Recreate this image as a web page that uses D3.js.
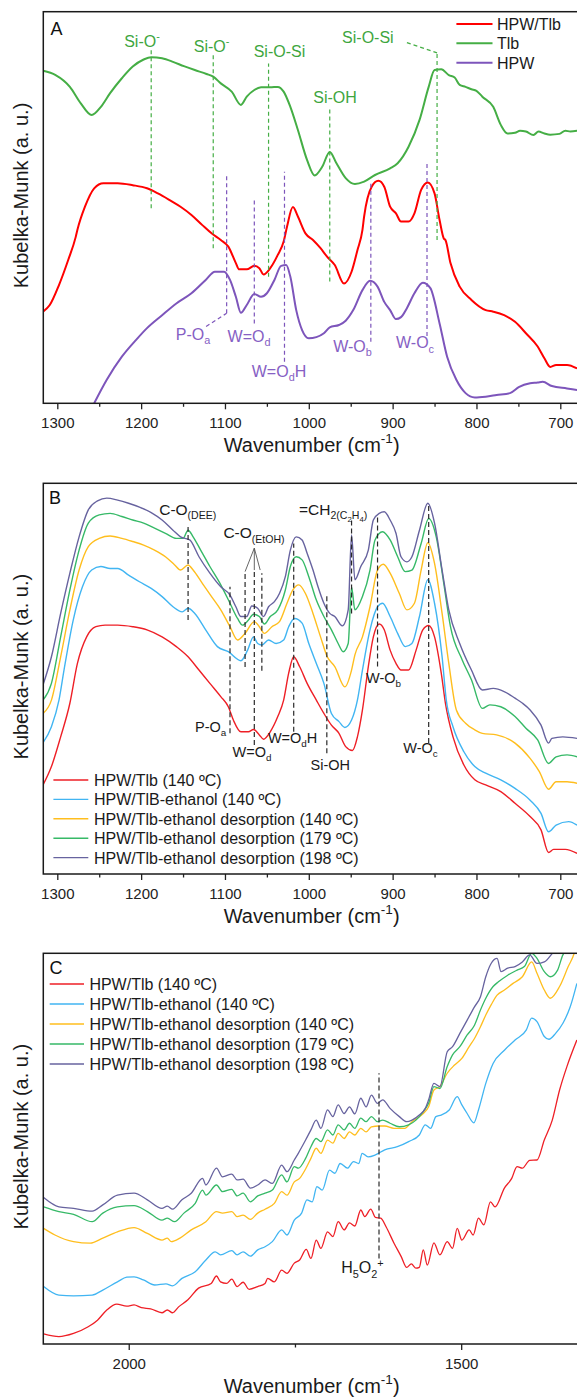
<!DOCTYPE html>
<html>
<head>
<meta charset="utf-8">
<script src="https://cdn.jsdelivr.net/npm/d3@7"></script>
<style>
  body { margin: 0; background: #fff; }
  svg { display: block; font-family: "Liberation Sans", Arial, sans-serif; }
</style>
</head>
<body>
<div class="spectra"></div>
<script>
// ---------- data: [wavenumber (cm-1), Kubelka-Munk (a. u.)] ----------

// Panel A
const aHpwTlb = [[1317,23.4],[1309,25.1],[1298,30.2],[1287,36.6],[1278,42.5],[1276,44.3],[1267,50.2],[1256,54.9],[1245,56.2],[1228,56.2],[1210,55.7],[1193,54.9],[1180,53.6],[1166,51.9],[1153,50.2],[1140,48.1],[1127,45.5],[1116,43.4],[1105,41.7],[1096,40],[1087,35.8],[1083,34.2],[1074,34.2],[1065,35.1],[1059,34.5],[1054,32.9],[1046,34.5],[1037,37.9],[1030,41.3],[1026,45.1],[1019,50.1],[1013,47.7],[1004,43.4],[995,41.7],[986,39.6],[978,37.4],[969,35.3],[958,30.6],[949,33.6],[942,39.1],[936,44.3],[934,47.7],[925,55.3],[917,56.8],[910,55.3],[903,50.2],[896,48.5],[890,46.4],[881,46.4],[874,48.5],[866,54.5],[858,56.4],[850,53.6],[844,46.8],[839,42.1],[837,41.7],[831,35.8],[820,29.8],[806,26.4],[789,23.8],[780,23.4],[767,22.5],[754,20.8],[741,17.9],[727,14.5],[719,11.5],[712,9.3],[705,9.8],[692,9.8],[680,8.9]];
const aTlb = [[1317,84.9],[1302,83.8],[1285,80.8],[1272,76.6],[1259,73.6],[1248,75.7],[1237,79.2],[1223,83],[1210,86],[1197,87.8],[1188,88.4],[1175,88.1],[1162,87.2],[1149,86.1],[1136,85.1],[1122,84.1],[1114,83.4],[1105,81.7],[1092,79.6],[1081,76.2],[1074,78.3],[1065,80],[1057,80.7],[1046,80.7],[1037,80.8],[1030,79.6],[1022,75.7],[1013,69.8],[1002,62.1],[993,58.2],[984,60.4],[975,64.2],[967,61.3],[956,57.5],[945,56],[934,56.6],[921,58.3],[903,60],[894,61.3],[881,65.5],[868,72.3],[857,80.8],[850,85.1],[842,85.3],[833,83.8],[826,83.2],[820,81.3],[813,80.8],[806,80.2],[800,79.8],[793,78.3],[780,75.7],[771,71.1],[763,68.9],[754,69.1],[748,69.6],[741,69.4],[732,68.5],[726,69.4],[719,68.9],[712,68.6],[701,68.8],[694,69.6],[688,69.4],[680,69.6]];
const aHpw = [[1256,0],[1241,6],[1223,11.9],[1206,16.2],[1193,19.2],[1175,22.5],[1158,25.5],[1140,28.1],[1123,31.5],[1112,33.6],[1101,33.6],[1094,31.5],[1087,27.2],[1081,23.1],[1074,25.1],[1065,27.9],[1057,27.2],[1050,28.1],[1041,31.5],[1033,35.1],[1027,35.3],[1022,32.3],[1015,23.8],[1008,18.7],[1000,16.6],[991,16.9],[982,17.9],[975,19.4],[964,20],[956,21.1],[947,23.8],[936,28.9],[927,31.3],[918,29.8],[910,25.9],[903,23.8],[896,21.5],[890,22],[883,24.3],[874,28.1],[864,30.8],[855,29.4],[844,20.4],[835,11.9],[824,6],[813,2.6],[802,1.5],[789,1.7],[776,2.1],[760,2.6],[749,4.2],[736,5.1],[727,5.3],[721,5.5],[710,4.4],[692,3.8],[680,3.4]];

// Panel B
const bTlb140 = [[1317,22.8],[1307,27.5],[1296,35.1],[1285,43.7],[1276,53.9],[1265,60.7],[1254,63.3],[1243,63.7],[1228,63.7],[1210,63.3],[1193,62.5],[1175,60.7],[1158,58.2],[1144,55.6],[1131,52.2],[1118,48.8],[1105,45.4],[1096,42.8],[1090,39.4],[1081,36.4],[1072,36.4],[1066,37],[1059,35.6],[1054,34.5],[1046,36.4],[1037,40.3],[1030,44.5],[1024,51.4],[1018,55.6],[1011,53.1],[1002,48.8],[991,44.5],[982,41.1],[973,38.1],[964,36],[956,32.6],[948,31.6],[942,35.1],[936,42],[929,53.1],[923,60.7],[916,64],[910,62.5],[903,57.3],[896,53.9],[890,52.2],[881,52.2],[872,57.3],[864,62.5],[857,63.6],[850,60.7],[842,51.4],[837,43.7],[828,35.1],[815,27.9],[802,24.1],[789,22.8],[771,21.1],[754,18.1],[736,14.7],[723,11.3],[714,5.5],[708,6.3],[694,6.3],[680,5.3]];
const bEthanol140 = [[1317,33.6],[1307,37.7],[1298,44.5],[1292,52.2],[1281,65],[1270,73.5],[1259,77.8],[1248,78.7],[1237,78.2],[1228,78.2],[1215,76.5],[1202,74.8],[1188,73.1],[1175,71],[1162,68.4],[1151,67.1],[1144,68],[1136,66.7],[1123,62.5],[1109,58.2],[1096,56.9],[1081,54.6],[1073,57.3],[1066,60.7],[1061,59],[1056,58.6],[1048,59.9],[1039,59],[1030,59.9],[1024,63.3],[1017,65.4],[1008,64.2],[1000,59],[991,53.9],[982,48.8],[973,41.1],[964,39],[957,37.5],[949,39.4],[942,44.5],[936,52.2],[927,62.5],[918,68.4],[912,69.3],[903,65.9],[894,61.6],[885,58.2],[877,59],[868,65.9],[858,75.3],[850,69.3],[841,55.6],[836,44.5],[828,37.7],[815,31.3],[802,27.5],[789,25.8],[771,24.1],[754,21.9],[736,18.9],[723,15.5],[714,10.8],[705,12.5],[690,13.4],[680,12.5]];
const bDes140 = [[1317,41.1],[1307,44.5],[1296,55.6],[1285,67.6],[1274,77.8],[1263,83.8],[1250,85.9],[1237,86.5],[1223,85.9],[1210,85.1],[1197,84.2],[1184,82.9],[1171,81.2],[1160,79.1],[1153,77.8],[1144,79.1],[1138,77.8],[1127,74.4],[1116,71],[1105,67.6],[1094,63.3],[1085,59.9],[1076,61.6],[1065,64.6],[1059,63.3],[1053,61.6],[1044,63.3],[1035,64.6],[1026,69.3],[1019,72.7],[1012,74],[1004,71.8],[995,66.7],[986,60.7],[978,55.6],[969,53.1],[957,47.9],[949,52.2],[945,56.1],[936,60.7],[927,68.4],[918,77.8],[911,79.3],[903,77],[892,71.8],[883,67.6],[874,69.3],[866,77.8],[858,84.8],[850,79.5],[841,66.7],[833,53.9],[824,42],[813,38.6],[802,36.9],[793,36],[776,35.6],[754,33.5],[736,29.6],[725,26.2],[714,21.7],[705,23.6],[692,23.6],[680,23.2]];
const bDes179 = [[1317,44.5],[1307,48.8],[1296,60.7],[1285,72.7],[1274,82.9],[1263,89.8],[1250,91.9],[1237,92.3],[1223,91.5],[1210,90.6],[1197,89.8],[1184,88.5],[1171,87.2],[1158,85.9],[1150,85.9],[1144,88],[1138,86.3],[1129,82.9],[1118,78.7],[1105,74],[1094,69.3],[1085,65.4],[1079,63.7],[1072,65],[1066,66.5],[1059,65.9],[1053,64],[1046,65.9],[1037,67.6],[1028,72.7],[1022,78.7],[1015,81.2],[1008,80.4],[1000,76.1],[991,70.1],[982,65.9],[973,62.5],[965,59],[959,56.9],[953,59],[949,73.5],[945,67.6],[936,71],[927,77.8],[921,85.5],[912,87.6],[903,85.5],[894,81.2],[885,77.4],[877,77.8],[866,84.6],[857,91],[848,86.3],[839,74.4],[831,63.3],[817,54.8],[806,49.7],[793,42.4],[784,43.3],[771,42.8],[754,40.3],[741,37.3],[727,34.3],[714,28.3],[705,30],[692,30.5],[680,30]];
const bDes198 = [[1317,48.4],[1307,55.6],[1296,66.7],[1285,77],[1274,86.3],[1263,93.2],[1252,95.5],[1241,96.2],[1228,95.7],[1215,94.9],[1202,93.9],[1188,92.5],[1175,90.6],[1162,88],[1153,86.3],[1142,85.5],[1131,81.2],[1118,77],[1105,73.5],[1094,71.4],[1087,68.4],[1081,65.9],[1074,65.9],[1068,68.6],[1061,68],[1054,65.9],[1048,68.4],[1041,69.7],[1035,71.8],[1028,76.1],[1022,82.9],[1015,86.3],[1008,85.5],[1002,82.1],[995,77.8],[989,73.5],[982,69.3],[975,66.7],[969,65.9],[960,63.5],[953,67.6],[949,86.8],[945,75.3],[938,78.7],[929,82.9],[923,90.6],[916,92.3],[910,92.7],[903,90.6],[896,87.2],[890,81.2],[883,79.9],[877,81.2],[868,88],[858,94.9],[850,89.8],[841,77.8],[833,67.6],[820,59],[806,52.2],[793,47.1],[780,47.5],[767,46.7],[754,45],[745,43.7],[736,42],[723,38.1],[714,33.5],[710,34.7],[697,35.1],[680,34.7]];

// Panel C
const cTlb140 = [[2128,2.6],[2105,1.9],[2083,2.7],[2061,4.4],[2047,6.1],[2033,8.7],[2018,10.2],[2003,9.7],[1992,10],[1981,9.3],[1967,9],[1950,8],[1942,8.7],[1934,8],[1925,9.5],[1911,11.3],[1895,14.3],[1876,15.5],[1868,17.4],[1862,15.9],[1853,15.5],[1845,16.6],[1837,14.7],[1828,15.8],[1819,14],[1806,14.7],[1795,15.5],[1791,16.8],[1781,15.9],[1770,18.9],[1762,18.1],[1751,20.7],[1743,21.5],[1733,24.2],[1726,21.9],[1718,26.6],[1711,24.5],[1701,28.7],[1693,27.5],[1685,31.3],[1676,29.2],[1668,31],[1660,30.2],[1651,34.3],[1645,32.6],[1636,34.5],[1629,32.4],[1621,32.2],[1613,30],[1601,25.8],[1590,22.3],[1582,19.6],[1575,20.5],[1568,19.4],[1563,19.6],[1557,24.1],[1551,20.2],[1541,25.9],[1532,22.8],[1521,26.2],[1513,24.5],[1506,29.6],[1499,26.6],[1488,29.2],[1482,27.9],[1474,32.2],[1466,30.5],[1456,36.4],[1449,35.1],[1435,39.9],[1424,42.4],[1416,45.4],[1408,45],[1397,47],[1386,47.1],[1375,52.2],[1363,57.3],[1352,65],[1341,71],[1326,77.8]];
const cEthanol140 = [[2128,14.7],[2105,12.5],[2083,12.3],[2055,12.5],[2039,13.8],[2017,15.9],[2003,17.1],[1992,17.2],[1978,16.4],[1961,15.1],[1944,15.4],[1934,14.9],[1920,16.8],[1900,18.5],[1884,21.5],[1870,23.6],[1862,22.8],[1845,23.9],[1837,22.8],[1828,23.6],[1817,22.5],[1806,24.1],[1795,24.9],[1784,26.2],[1770,29.2],[1762,27.9],[1751,31.7],[1740,33.5],[1732,36.9],[1724,36.4],[1717,40.3],[1709,39.4],[1698,44.5],[1690,43.7],[1682,46.2],[1671,45],[1662,46.7],[1654,46.2],[1649,48.8],[1640,47.9],[1629,48.4],[1615,49.7],[1596,50.5],[1579,51.8],[1563,53.5],[1554,56.1],[1546,55.2],[1538,58.2],[1530,58.6],[1518,59.9],[1506,63.3],[1499,61.2],[1491,59],[1481,56.6],[1474,59.9],[1463,66.7],[1452,71.8],[1435,75.2],[1419,77.8],[1402,80.4],[1394,83.4],[1386,82.5],[1375,78.7],[1368,78],[1358,79.5],[1347,82.1],[1336,86.3],[1326,92.3]];
const cDes140 = [[2128,29.6],[2111,27.9],[2083,26.2],[2058,25.8],[2039,27.1],[2017,28.7],[1992,29.8],[1972,28.3],[1950,26.6],[1942,27.1],[1936,26.2],[1923,27.1],[1906,29.2],[1884,31.3],[1868,33.9],[1859,33.5],[1845,33.9],[1837,32.6],[1828,33],[1817,31.9],[1806,33.5],[1795,34.5],[1781,36],[1770,39],[1762,38.1],[1751,41.5],[1743,42.4],[1734,44.8],[1726,47.5],[1718,50.1],[1711,48.8],[1701,52.2],[1693,51.4],[1685,53.9],[1676,52.6],[1668,54.3],[1660,53.5],[1651,55.2],[1643,54.3],[1635,55.6],[1624,55.8],[1615,55.8],[1601,55.2],[1585,55.2],[1574,56.9],[1566,57.8],[1557,59],[1549,60.7],[1541,65],[1532,65.9],[1521,69.3],[1510,71.4],[1499,73.1],[1488,76.1],[1480,78.2],[1471,81.2],[1463,84.2],[1455,86.8],[1446,89.3],[1435,90.6],[1422,92.3],[1408,94],[1394,97.8],[1386,94.9],[1375,90.6],[1366,88.5],[1352,91.5],[1339,96.6],[1330,100],[1326,102.6]];
const cDes179 = [[2128,35.1],[2105,33.9],[2083,33.2],[2055,31.3],[2039,33.5],[2017,35.1],[1992,35.4],[1972,33.9],[1950,31.7],[1942,32.2],[1931,31.3],[1917,33.5],[1900,36],[1889,39.4],[1884,38.1],[1868,40.7],[1859,39],[1845,39.6],[1837,37.9],[1828,38.6],[1817,36.4],[1806,37.9],[1795,38.6],[1784,39.4],[1770,43.3],[1762,41.5],[1751,45.4],[1745,45],[1734,47.5],[1726,50.5],[1718,52.6],[1711,51.8],[1701,54.8],[1693,53.5],[1685,56.1],[1676,54.8],[1668,56.5],[1660,55.2],[1651,57.8],[1643,56.9],[1635,58.2],[1626,56.9],[1618,57.3],[1607,56.5],[1593,55.6],[1579,56.1],[1568,57.3],[1557,59.5],[1549,61.6],[1541,65.9],[1532,65.4],[1521,71],[1513,74],[1502,76.1],[1491,79.1],[1480,81.6],[1471,85.5],[1463,88.5],[1452,91.5],[1444,92.7],[1430,94.4],[1416,95.7],[1405,96.6],[1394,100],[1386,98.7],[1375,95.3],[1366,94],[1355,95.7],[1347,99.6],[1341,100.8],[1326,106]];
const cDes198 = [[2128,37.5],[2105,35.1],[2083,34.7],[2055,34],[2039,35.6],[2017,38.1],[1992,38.6],[1972,36.9],[1950,34.7],[1942,35.3],[1934,34.5],[1920,36.9],[1906,38.6],[1889,42.4],[1884,40.7],[1868,45],[1859,42.8],[1845,43.5],[1837,42],[1828,42.2],[1817,39.9],[1806,40.7],[1795,42],[1784,41.1],[1770,45.8],[1762,44.1],[1751,47.1],[1745,48.8],[1734,52.2],[1726,54.8],[1718,57.3],[1711,55.2],[1701,59.9],[1693,58.2],[1685,61.2],[1676,59],[1668,60.7],[1660,58.9],[1651,62.9],[1643,60.7],[1635,63.7],[1626,61.6],[1618,62.5],[1607,60.3],[1593,58.2],[1582,56.9],[1574,57.3],[1563,58.6],[1554,60.3],[1549,62.5],[1541,66.7],[1532,65.9],[1521,74.8],[1513,76.1],[1502,79.5],[1491,82.9],[1480,86.3],[1471,88.9],[1463,94],[1455,97.4],[1446,98.7],[1440,95.3],[1430,96.2],[1419,96.6],[1408,97.8],[1397,99.6],[1386,97.4],[1375,97.8],[1363,100],[1352,102.6],[1326,108]];

// series names and tick values
const namesA = ["HPW/Tlb", "Tlb", "HPW"];
const namesB = ["HPW/Tlb (140 ºC)", "HPW/TlB-ethanol (140 ºC)", "HPW/Tlb-ethanol desorption (140 ºC)", "HPW/Tlb-ethanol desorption (179 ºC)", "HPW/Tlb-ethanol desorption (198 ºC)"];
const namesC = ["HPW/Tlb (140 ºC)", "HPW/Tlb-ethanol (140 ºC)", "HPW/Tlb-ethanol desorption (140 ºC)", "HPW/Tlb-ethanol desorption (179 ºC)", "HPW/Tlb-ethanol desorption (198 ºC)"];
const ticksAB = [1300, 1200, 1100, 1000, 900, 800, 700];
const minorAB = [1250, 1150, 1050, 950, 850, 750];
const ticksC = [2000, 1500];
const minorC = [1750];

// ---------- layout ----------
var colorsA = ["#ff0000", "#45ae45", "#7d55bb"];
var colorsBC = ["#ee1f26", "#41b5f2", "#ffbe1e", "#36b967", "#67639f"];
var W = 577, H = 1397, plotLeft = 43.3, plotRight = 580;
var font = "'Liberation Sans', Arial, sans-serif";

var svg = d3.select(".spectra").append("svg")
    .attr("width", W)
    .attr("height", H);

// text with sub/superscript pieces: [string, mode]
function richText(g, parts, xp, yp, size, color, anchor) {
    var t = g.append("text")
        .attr("x", xp).attr("y", yp)
        .attr("text-anchor", anchor || "middle")
        .attr("font-size", size)
        .attr("fill", color);
    var modes = {"": [0, 1], sub: [0.28, 0.68], sup: [-0.42, 0.68], subsub: [0.48, 0.5]};
    var shift = 0;
    parts.forEach(function (p) {
        var m = modes[p[1] || ""];
        var target = m[0] * size;
        t.append("tspan").attr("dy", target - shift).attr("font-size", size * m[1]).text(p[0]);
        shift = target;
    });
    return t;
}

function drawPanel(p) {
    var x = d3.scaleLinear().domain(p.domain).range([plotLeft, plotRight]);
    var y = d3.scaleLinear().domain([0, 100]).range([p.bottom, p.top]);
    var g = svg.append("g");

    g.append("clipPath").attr("id", "clip" + p.letter)
        .append("rect")
        .attr("x", plotLeft).attr("y", p.top)
        .attr("width", plotRight - plotLeft).attr("height", p.bottom - p.top);

    // minor ticks
    g.append("g")
        .attr("transform", `translate(0,${p.bottom})`)
        .call(d3.axisBottom(x).tickValues(p.minor).tickSize(3.5).tickFormat(""))
        .call(a => a.select(".domain").remove())
        .selectAll("line").attr("stroke", "#222").attr("stroke-width", 1.3);

    // major ticks with labels
    var ax = g.append("g")
        .attr("transform", `translate(0,${p.bottom})`)
        .call(d3.axisBottom(x).tickValues(p.ticks).tickSize(6).tickPadding(8).tickFormat(d3.format("d")))
        .attr("font-family", font)
        .attr("font-size", 15);
    ax.select(".domain").remove();
    ax.selectAll("line").attr("stroke", "#222").attr("stroke-width", 1.3);
    ax.selectAll("text").attr("fill", "#222");

    // spectra
    var line = d3.line()
        .x(d => x(d[0]))
        .y(d => y(d[1]))
        .curve(d3.curveMonotoneX);

    g.append("g")
        .attr("clip-path", `url(#clip${p.letter})`)
        .selectAll("path")
        .data(p.series)
        .join("path")
        .attr("d", line)
        .attr("fill", "none")
        .attr("stroke", (d, i) => p.colors[i])
        .attr("stroke-width", p.lineWidth)
        .attr("stroke-linejoin", "round");

    // frame
    g.append("rect")
        .attr("x", plotLeft).attr("y", p.top)
        .attr("width", plotRight - plotLeft).attr("height", p.bottom - p.top)
        .attr("fill", "none")
        .attr("stroke", "#1a1a1a")
        .attr("stroke-width", 1.5);

    // axis titles
    richText(g, [["Wavenumber (cm", ""], ["-1", "sup"], [")", ""]],
        (plotLeft + plotRight) / 2, p.bottom + 48.5, 20, "#1a1a1a");

    g.append("text")
        .attr("transform", `translate(27.5,${(p.top + p.bottom) / 2 - 12}) rotate(-90)`)
        .attr("text-anchor", "middle")
        .attr("font-size", 20)
        .attr("fill", "#1a1a1a")
        .text("Kubelka-Munk (a. u.)");

    // panel letter
    g.append("text")
        .attr("x", p.letterX).attr("y", p.letterY)
        .attr("font-size", 18)
        .attr("fill", "#111")
        .text(p.letter);

    // legend
    var lg = p.legend;
    var rows = g.append("g").selectAll("g")
        .data(p.names)
        .join("g")
        .attr("transform", (d, i) => `translate(0,${lg.y0 + i * lg.step})`);
    rows.append("line")
        .attr("x1", lg.x0).attr("x2", lg.x1)
        .attr("stroke", (d, i) => p.colors[i])
        .attr("stroke-width", p.lineWidth);
    rows.append("text")
        .attr("x", lg.tx).attr("y", 6)
        .attr("font-size", 16)
        .attr("fill", "#1a1a1a")
        .text(d => d);

    return {x: x, y: y, g: g};
}

var pA = drawPanel({
    letter: "A", letterX: 50.5, letterY: 35, top: 11.7, bottom: 403.3,
    domain: [1316.7, 676.5], ticks: ticksAB, minor: minorAB,
    series: [aHpwTlb, aTlb, aHpw], names: namesA, colors: colorsA, lineWidth: 2,
    legend: {x0: 456.4, x1: 492.5, tx: 497, y0: 24, step: 19.35}
});
var pB = drawPanel({
    letter: "B", letterX: 49, letterY: 503.5, top: 483.3, bottom: 874,
    domain: [1316.7, 676.5], ticks: ticksAB, minor: minorAB,
    series: [bTlb140, bEthanol140, bDes140, bDes179, bDes198], names: namesB, colors: colorsBC, lineWidth: 1.4,
    legend: {x0: 53.4, x1: 88.3, tx: 94, y0: 780, step: 19.4}
});
var pC = drawPanel({
    letter: "C", letterX: 49.5, letterY: 973.5, top: 953.3, bottom: 1344,
    domain: [2128.5, 1321.3], ticks: ticksC, minor: minorC,
    series: [cTlb140, cEthanol140, cDes140, cDes179, cDes198], names: namesC, colors: colorsBC, lineWidth: 1.3,
    legend: {x0: 49.7, x1: 84, tx: 89.4, y0: 984, step: 20}
});

// ---------- band assignments ----------
function dashes(s, list, color, dash, width) {
    s.g.append("g").selectAll("line")
        .data(list)
        .join("line")
        .attr("x1", d => s.x(d.from[0])).attr("y1", d => s.y(d.from[1]))
        .attr("x2", d => s.x(d.to[0])).attr("y2", d => s.y(d.to[1]))
        .attr("stroke", color)
        .attr("stroke-width", width)
        .attr("stroke-dasharray", dash);
}
function labels(s, list, color, size) {
    list.forEach(d => richText(s.g, d.parts, s.x(d.at[0]), s.y(d.at[1]), size, color));
}

// panel A, silica bands (green) and HPW bands (purple)
dashes(pA, [
    {from: [1188, 49.8], to: [1188, 90.2]},
    {from: [1114, 39.6], to: [1114, 88.9]},
    {from: [1048, 32.3], to: [1048, 86.8]},
    {from: [975, 31.1], to: [975, 75.3]},
    {from: [847, 41.7], to: [847, 89.5]},
    {from: [883, 92.1], to: [847, 89.5]}
], colorsA[1], "4,3", 1.2);
dashes(pA, [
    {from: [1098, 23], to: [1098, 58.6]},
    {from: [1122.5, 19.6], to: [1098, 23]},
    {from: [1065, 20.4], to: [1065, 51.9]},
    {from: [1029, 10.6], to: [1029, 59.1]},
    {from: [926, 15.7], to: [926, 56.6]},
    {from: [859, 17.2], to: [859, 61.4]}
], colorsA[2], "4,3", 1.2);
labels(pA, [
    {at: [1199, 91.1], parts: [["Si-O"], ["-", "sup"]]},
    {at: [1116, 89.8], parts: [["Si-O"], ["-", "sup"]]},
    {at: [1035, 88.5], parts: [["Si-O-Si"]]},
    {at: [968.7, 76.8], parts: [["Si-OH"]]},
    {at: [929.5, 91.9], parts: [["Si-O-Si"]]}
], "#3ea63e", 16);
labels(pA, [
    {at: [1138, 16.2], parts: [["P-O"], ["a", "sub"]]},
    {at: [1071.3, 15.7], parts: [["W=O"], ["d", "sub"]]},
    {at: [1035.5, 6.8], parts: [["W=O"], ["d", "sub"], ["H"]]},
    {at: [947.8, 13.2], parts: [["W-O"], ["b", "sub"]]},
    {at: [873.3, 14], parts: [["W-O"], ["c", "sub"]]}
], "#8660c4", 16);

// panel B
dashes(pB, [
    {from: [1144, 65], to: [1144, 88.9]},
    {from: [1094, 36], to: [1094, 73.5]},
    {from: [1076, 53], to: [1076, 77]},
    {from: [1065, 33], to: [1065, 77.8]},
    {from: [1056, 52], to: [1056, 77]},
    {from: [1018, 36.4], to: [1018, 84.6]},
    {from: [978.5, 30.9], to: [978.5, 71.8]},
    {from: [949, 66.7], to: [949, 90.6]},
    {from: [918, 53.1], to: [918, 91.5]},
    {from: [857, 33.5], to: [857, 94.9]}
], "#2a2a2a", "5,3", 1.2);
dashes(pB, [
    {from: [1065, 83.4], to: [1076, 77.4]},
    {from: [1065, 83.4], to: [1065, 77.8]},
    {from: [1065, 83.4], to: [1058, 77.8]}
], "#555", null, 0.9);
labels(pB, [
    {at: [1144.4, 91.9], parts: [["C-O"], ["(DEE)", "sub"]]},
    {at: [1065.4, 85.9], parts: [["C-O"], ["(EtOH)", "sub"]]},
    {at: [971, 91.9], parts: [["=CH"], ["2(C", "sub"], ["2", "subsub"], ["H", "sub"], ["4", "subsub"], [")", "sub"]]}
], "#1a1a1a", 15.5);
labels(pB, [
    {at: [1117, 36.4], parts: [["P-O"], ["a", "sub"]]},
    {at: [1067.7, 30], parts: [["W=O"], ["d", "sub"]]},
    {at: [1019.3, 33.5], parts: [["W=O"], ["d", "sub"], ["H"]]},
    {at: [974.3, 26.6], parts: [["Si-OH"]]},
    {at: [910.8, 48.8], parts: [["W-O"], ["b", "sub"]]},
    {at: [866.7, 30.9], parts: [["W-O"], ["c", "sub"]]}
], "#1a1a1a", 14.5);

// panel C
dashes(pC, [{from: [1623.6, 21.9], to: [1623.6, 69.3]}], "#2a2a2a", "5,3", 1.2);
labels(pC, [
    {at: [1648.5, 18.1], parts: [["H"], ["5", "sub"], ["O"], ["2", "sub"], ["+", "sup"]]}
], "#1a1a1a", 16);
</script>
</body>
</html>
